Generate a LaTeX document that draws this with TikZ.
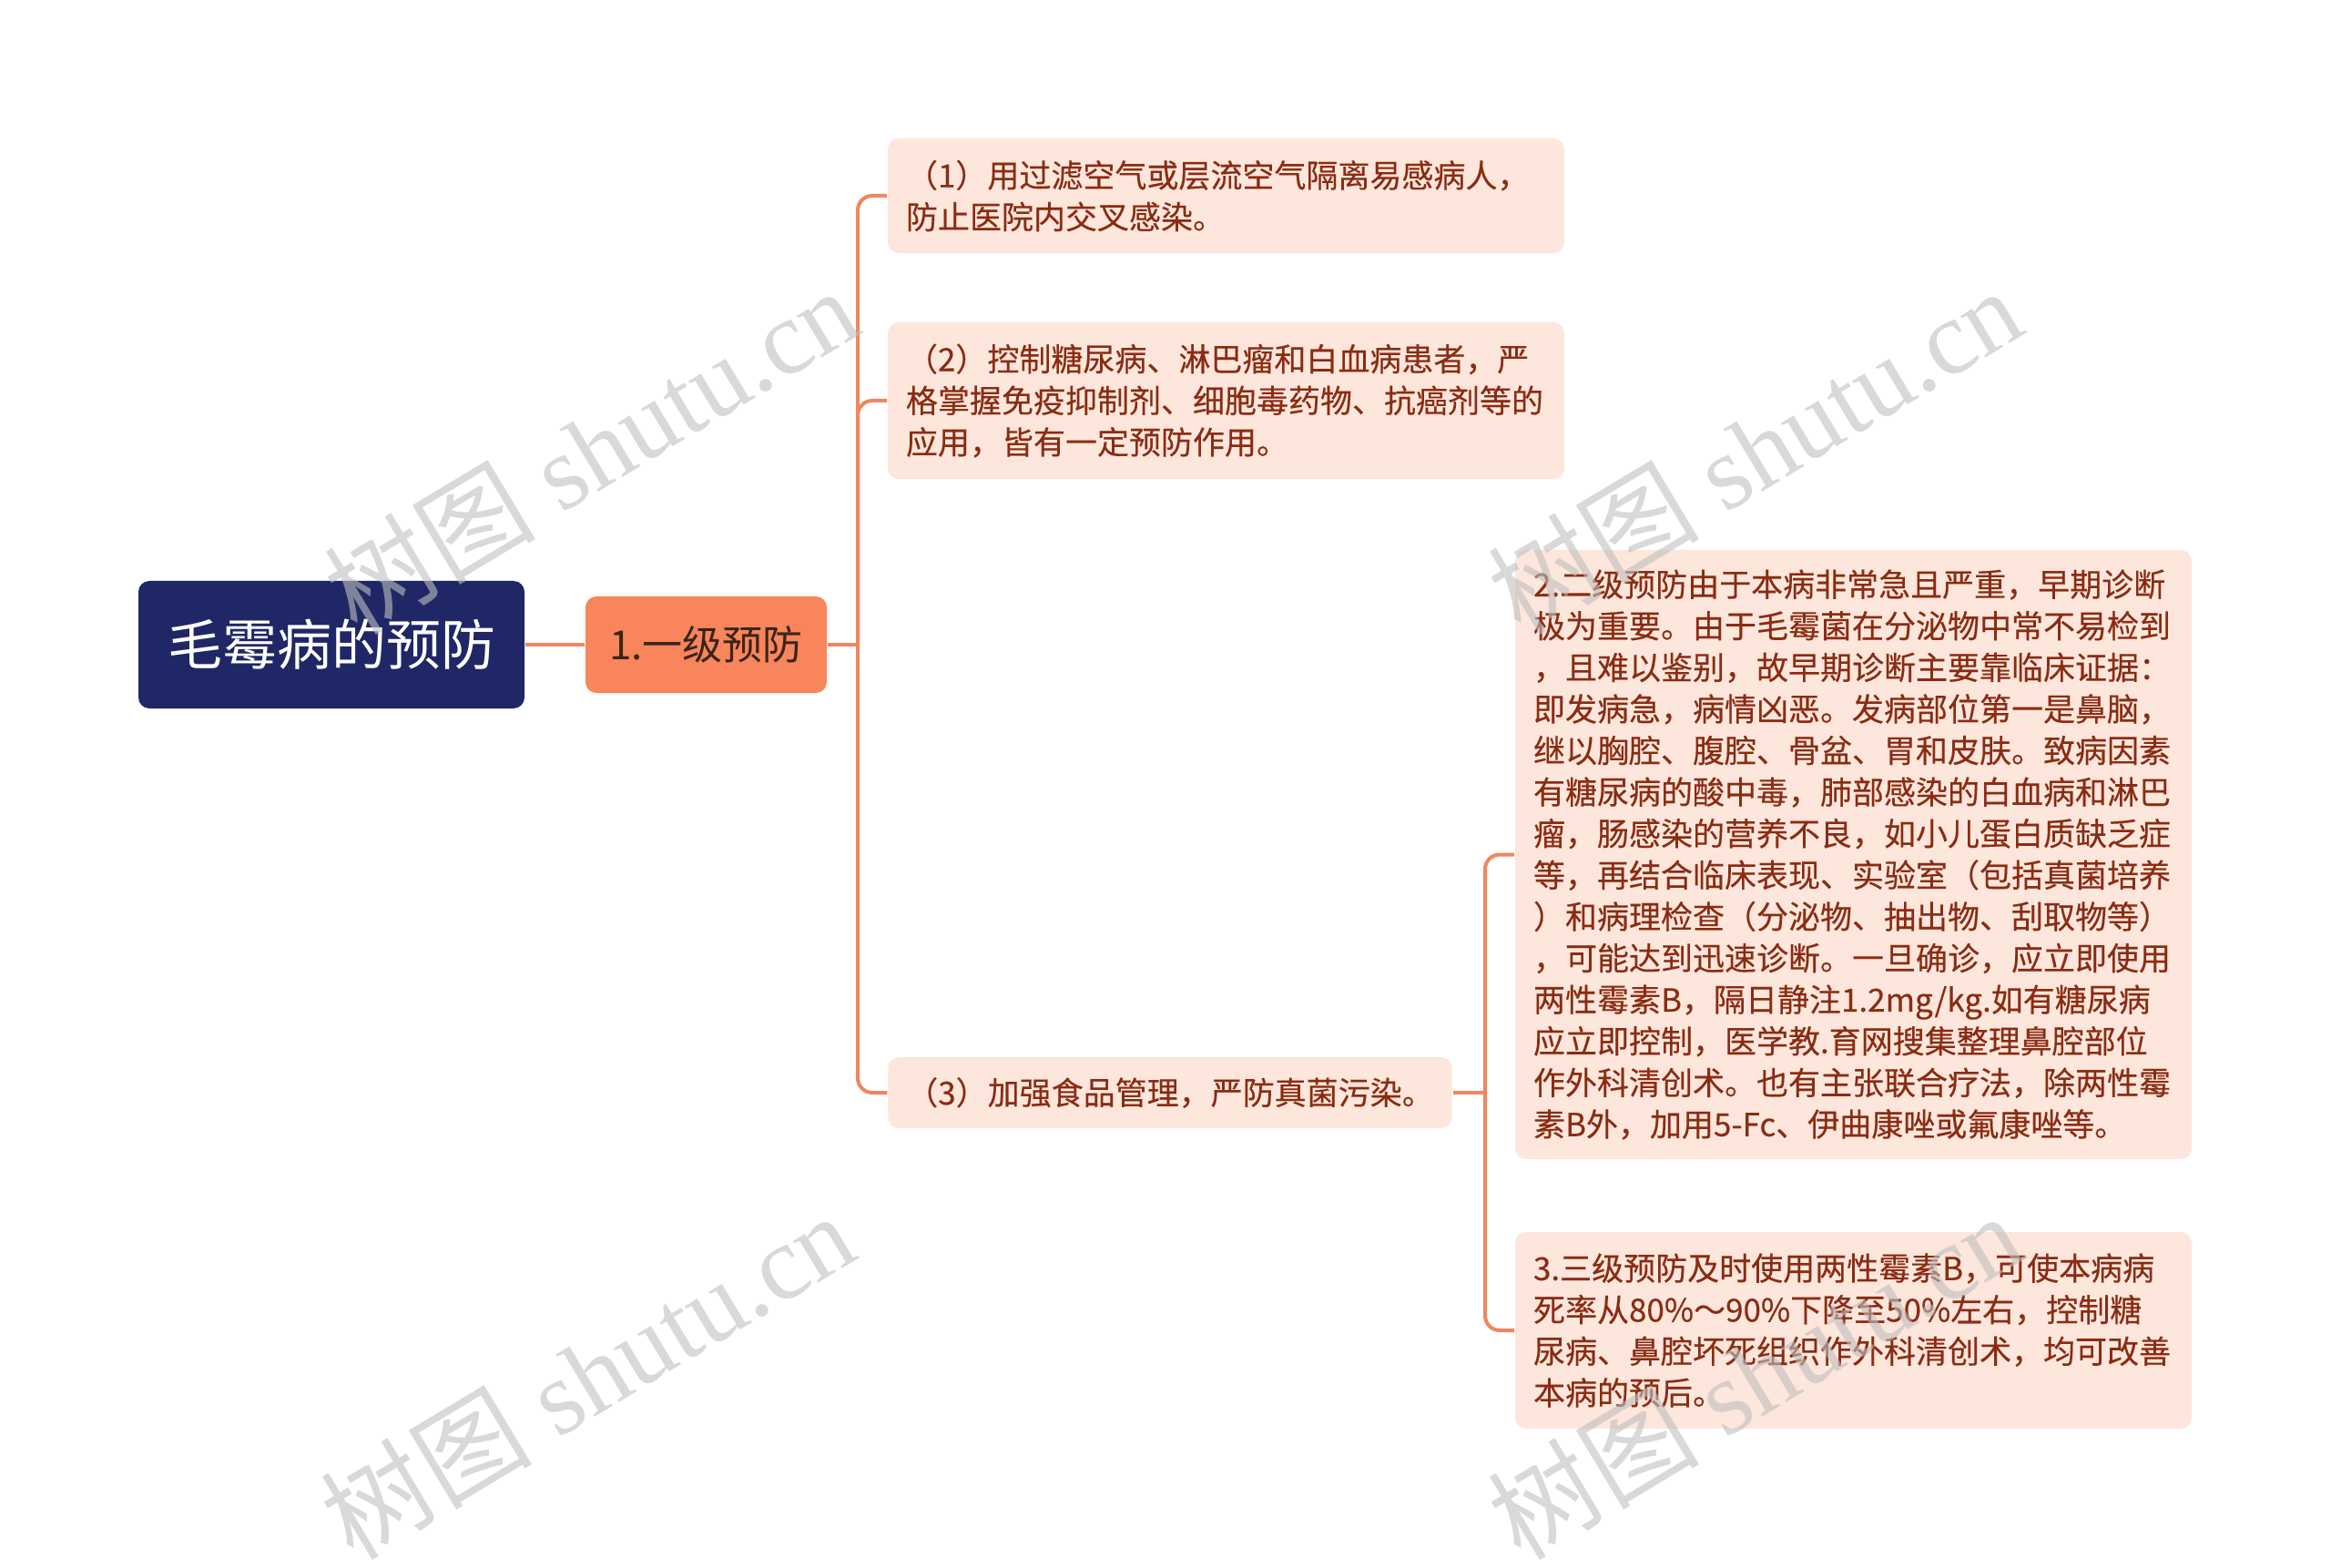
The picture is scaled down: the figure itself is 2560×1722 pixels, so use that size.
\documentclass[tikz,border=0pt]{standalone}
\usepackage{fontspec}
\newfontfamily\cjk{Noto Sans CJK SC}
\newfontfamily\cjkleaf[FakeBold=0.25]{Noto Sans CJK SC}
\newfontfamily\wmfont{Liberation Serif}
\definecolor{rootfill}{HTML}{1F2766}
\definecolor{lvfill}{HTML}{F8855B}
\definecolor{lvtext}{HTML}{3A2418}
\definecolor{leaffill}{HTML}{FDE6DC}
\definecolor{leaftext}{HTML}{8A2C12}
\definecolor{linkcol}{HTML}{EF8660}
\begin{document}
\begin{tikzpicture}[x=0.25pt,y=-0.25pt]
\tikzstyle{rootbox}=[fill=rootfill,text=white,rounded corners=3pt,minimum width=106pt,minimum height=35pt,font=\cjk\fontsize{15pt}{18pt}\selectfont]
\tikzstyle{lvbox}=[fill=lvfill,text=lvtext,rounded corners=3pt,minimum width=66.25pt,minimum height=26.5pt,font=\cjk\fontsize{11pt}{13pt}\selectfont]
\tikzstyle{leaf}=[fill=leaffill,text=leaftext,rounded corners=3pt,inner xsep=5pt,inner ysep=0pt,align=left,font=\cjkleaf\fontsize{8.75pt}{11.4pt}\selectfont]
\tikzstyle{link}=[draw=linkcol,line width=1pt,rounded corners=4pt]
\tikzstyle{wmark}=[text=black!25,opacity=0.6,rotate=31,font=\wmfont\fontsize{29pt}{29pt}\selectfont]
\useasboundingbox (0,0) rectangle (2560,1722);
\node[rootbox] (root) at (364,708) {毛霉病的预防};
\node[lvbox] (lv1) at (775.5,708) {1.一级预防};
\node[leaf,text width=175.75pt,minimum height=31.5pt] (p1) at (1346.5,215)
  {（1）用过滤空气或层流空气隔离易感病人，\\防止医院内交叉感染。};
\node[leaf,text width=175.75pt,minimum height=43pt] (p2) at (1346.5,440)
  {（2）控制糖尿病、淋巴瘤和白血病患者，严\\格掌握免疫抑制剂、细胞毒药物、抗癌剂等的\\应用，皆有一定预防作用。};
\node[leaf,minimum height=19.5pt] (p3) at (1285,1200) {（3）加强食品管理，严防真菌污染。};
\node[leaf,text width=175.75pt,minimum height=167.25pt] (q1) at (2035.5,938.5)
  {2.二级预防由于本病非常急且严重，早期诊断\\极为重要。由于毛霉菌在分泌物中常不易检到\\，且难以鉴别，故早期诊断主要靠临床证据：\\即发病急，病情凶恶。发病部位第一是鼻脑，\\继以胸腔、腹腔、骨盆、胃和皮肤。致病因素\\有糖尿病的酸中毒，肺部感染的白血病和淋巴\\瘤，肠感染的营养不良，如小儿蛋白质缺乏症\\等，再结合临床表现、实验室（包括真菌培养\\）和病理检查（分泌物、抽出物、刮取物等）\\，可能达到迅速诊断。一旦确诊，应立即使用\\两性霉素B，隔日静注1.2mg/kg.如有糖尿病\\应立即控制，医学教.育网搜集整理鼻腔部位\\作外科清创术。也有主张联合疗法，除两性霉\\素B外，加用5-Fc、伊曲康唑或氟康唑等。};
\node[leaf,text width=175.75pt,minimum height=54pt] (q2) at (2035.5,1461)
  {3.三级预防及时使用两性霉素B，可使本病病\\死率从80\%～90\%下降至50\%左右，控制糖\\尿病、鼻腔坏死组织作外科清创术，均可改善\\本病的预后。};
\coordinate (s1) at (942,708);
\coordinate (s2) at (1631,1200);
\draw[link] (root.east) -- (lv1.west);
\draw[link] (lv1.east) -- (s1);
\foreach \p in {p1,p2,p3}
	\draw[link] (s1) |- (\p.west);
\draw[link] (p3.east) -- (s2);
\foreach \q in {q1,q2}
	\draw[link] (s2) |- (\q.west);
\foreach \wx/\wy [count=\i] in {649/494,1927/494,645/1510,1927/1510}
	\node[wmark] (wm\i) at (\wx,\wy) {{\cjk 树图} shutu.cn};
\end{tikzpicture}
\end{document}
